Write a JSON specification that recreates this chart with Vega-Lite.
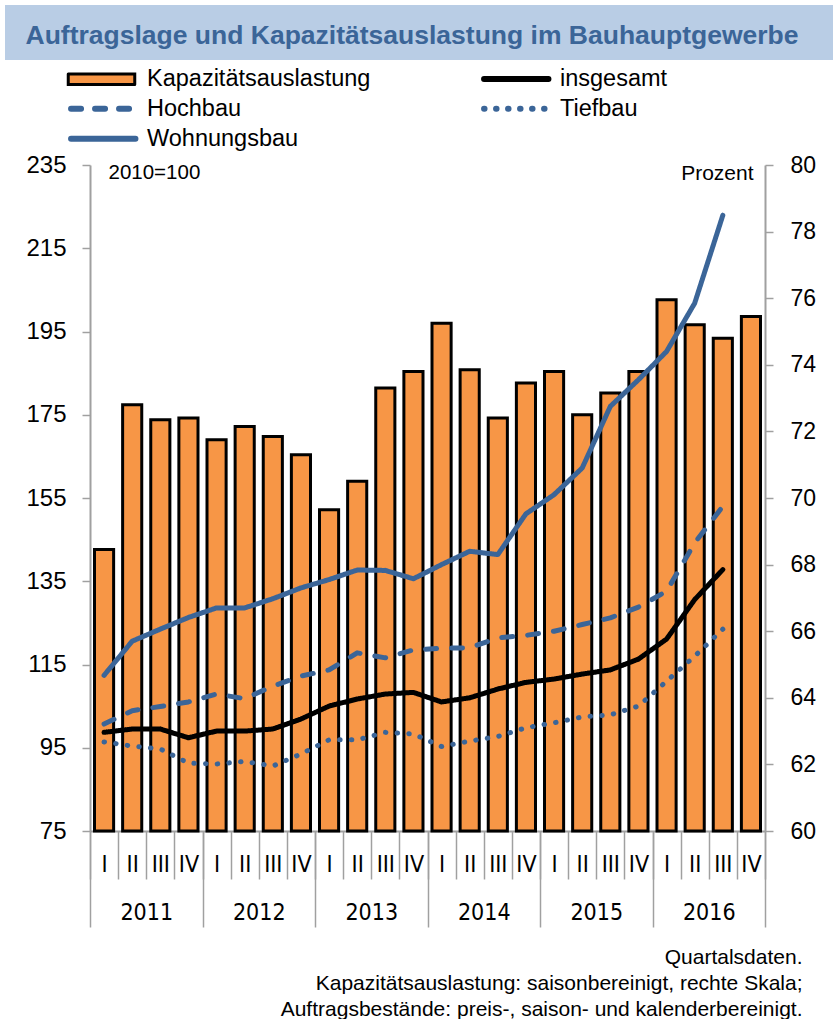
{
  "$schema": "https://vega.github.io/schema/vega-lite/v6.json",
  "padding": {"left": 5, "top": 5, "right": 0, "bottom": 0},
  "spacing": 7,
  "center": false,
  "bounds": "full",
  "resolve": {"scale": {"stroke": "independent", "strokeDash": "independent"}, "legend": {"stroke": "independent", "strokeDash": "independent"}},
  "config": {
    "font": "Liberation Sans",
    "view": {"stroke": null},
    "axis": {"grid": false, "domainColor": "#A0A0A0", "tickColor": "#A0A0A0", "labelColor": "#000000", "titleColor": "#000000", "titleFontWeight": "normal", "labelFont": "Liberation Sans", "titleFont": "Liberation Sans"}
  },
  "vconcat": [
    {
      "width": 828,
      "height": 55,
      "view": {"fill": "#B9CDE5", "stroke": null},
      "data": {"values": [{"k": "a"}]},
      "mark": {"type": "point", "opacity": 0},
      "encoding": {
        "x": {"field": "k", "type": "nominal", "axis": {"orient": "top", "domain": false, "ticks": false, "labels": false, "title": "Auftragslage und Kapazitätsauslastung im Bauhauptgewerbe", "titleX": 20, "titleY": 38, "titleAlign": "left", "titleBaseline": "alphabetic", "titleAngle": 0, "titleFont": "Liberation Sans", "titleFontSize": 26.5, "titleFontWeight": "bold", "titleColor": "#3B6598", "titleLimit": 1000}}
      }
    },
    {
      "spacing": 0,
      "bounds": "full",
      "resolve": {"scale": {"stroke": "independent", "strokeDash": "independent"}, "legend": {"stroke": "independent", "strokeDash": "independent"}},
      "hconcat": [
        {
          "width": 20,
          "height": 10,
          "data": {"values": [{"k": "a"}]},
          "mark": {"type": "point", "opacity": 0},
          "encoding": {}
        },
        {
          "width": 675,
          "height": 666,
          "layer": [
            {
              "data": {"values": [
                {"q": "2011-I", "Kapazitätsauslastung": 68.45, "insgesamt": 98.7, "Hochbau": 100.7, "Tiefbau": 96.4, "Wohnungsbau": 112.4},
                {"q": "2011-II", "Kapazitätsauslastung": 72.8, "insgesamt": 99.5, "Hochbau": 103.9, "Tiefbau": 95.4, "Wohnungsbau": 120.6},
                {"q": "2011-III", "Kapazitätsauslastung": 72.35, "insgesamt": 99.5, "Hochbau": 104.9, "Tiefbau": 94.7, "Wohnungsbau": 123.5},
                {"q": "2011-IV", "Kapazitätsauslastung": 72.4, "insgesamt": 97.4, "Hochbau": 106.0, "Tiefbau": 91.3, "Wohnungsbau": 126.3},
                {"q": "2012-I", "Kapazitätsauslastung": 71.75, "insgesamt": 99.0, "Hochbau": 107.9, "Tiefbau": 91.1, "Wohnungsbau": 128.6},
                {"q": "2012-II", "Kapazitätsauslastung": 72.15, "insgesamt": 99.0, "Hochbau": 106.8, "Tiefbau": 91.7, "Wohnungsbau": 128.6},
                {"q": "2012-III", "Kapazitätsauslastung": 71.85, "insgesamt": 99.5, "Hochbau": 109.8, "Tiefbau": 90.6, "Wohnungsbau": 130.8},
                {"q": "2012-IV", "Kapazitätsauslastung": 71.3, "insgesamt": 101.9, "Hochbau": 112.2, "Tiefbau": 93.5, "Wohnungsbau": 133.4},
                {"q": "2013-I", "Kapazitätsauslastung": 69.65, "insgesamt": 105.0, "Hochbau": 113.7, "Tiefbau": 96.9, "Wohnungsbau": 135.4},
                {"q": "2013-II", "Kapazitätsauslastung": 70.5, "insgesamt": 106.7, "Hochbau": 117.8, "Tiefbau": 96.9, "Wohnungsbau": 137.7},
                {"q": "2013-III", "Kapazitätsauslastung": 73.3, "insgesamt": 107.9, "Hochbau": 116.6, "Tiefbau": 98.7, "Wohnungsbau": 137.6},
                {"q": "2013-IV", "Kapazitätsauslastung": 73.8, "insgesamt": 108.3, "Hochbau": 118.5, "Tiefbau": 98.3, "Wohnungsbau": 135.6},
                {"q": "2014-I", "Kapazitätsauslastung": 75.25, "insgesamt": 106.0, "Hochbau": 118.9, "Tiefbau": 95.3, "Wohnungsbau": 139.0},
                {"q": "2014-II", "Kapazitätsauslastung": 73.85, "insgesamt": 107.0, "Hochbau": 119.0, "Tiefbau": 96.6, "Wohnungsbau": 142.2},
                {"q": "2014-III", "Kapazitätsauslastung": 72.4, "insgesamt": 109.1, "Hochbau": 121.4, "Tiefbau": 97.7, "Wohnungsbau": 141.4},
                {"q": "2014-IV", "Kapazitätsauslastung": 73.45, "insgesamt": 110.7, "Hochbau": 122.0, "Tiefbau": 99.8, "Wohnungsbau": 151.2},
                {"q": "2015-I", "Kapazitätsauslastung": 73.8, "insgesamt": 111.5, "Hochbau": 123.0, "Tiefbau": 101.0, "Wohnungsbau": 155.8},
                {"q": "2015-II", "Kapazitätsauslastung": 72.5, "insgesamt": 112.7, "Hochbau": 124.6, "Tiefbau": 102.4, "Wohnungsbau": 162.2},
                {"q": "2015-III", "Kapazitätsauslastung": 73.15, "insgesamt": 113.7, "Hochbau": 126.2, "Tiefbau": 102.9, "Wohnungsbau": 177.0},
                {"q": "2015-IV", "Kapazitätsauslastung": 73.8, "insgesamt": 116.3, "Hochbau": 128.8, "Tiefbau": 105.0, "Wohnungsbau": 183.4},
                {"q": "2016-I", "Kapazitätsauslastung": 75.95, "insgesamt": 121.1, "Hochbau": 132.6, "Tiefbau": 111.0, "Wohnungsbau": 190.2},
                {"q": "2016-II", "Kapazitätsauslastung": 75.2, "insgesamt": 130.6, "Hochbau": 144.2, "Tiefbau": 117.0, "Wohnungsbau": 201.8},
                {"q": "2016-III", "Kapazitätsauslastung": 74.8, "insgesamt": 137.8, "Hochbau": 153.0, "Tiefbau": 123.5, "Wohnungsbau": 222.9},
                {"q": "2016-IV", "Kapazitätsauslastung": 75.45, "insgesamt": null, "Hochbau": null, "Tiefbau": null, "Wohnungsbau": null}
              ]},
              "encoding": {
                "x": {
                  "field": "q", "type": "ordinal", "sort": null,
                  "scale": {"type": "band", "paddingInner": 0, "paddingOuter": 0},
                  "axis": {"orient": "bottom", "title": null, "labelExpr": "split(datum.value, '-')[1]", "labelAngle": 0, "tickBand": "extent", "tickSize": 48, "tickWidth": 1.5, "domainWidth": 2, "labelBaseline": "middle", "labelPadding": -15, "labelFont": "DejaVu Sans Condensed, Liberation Sans", "labelFontSize": 23}
                }
              },
              "layer": [
                {
                  "transform": [{"fold": ["Kapazitätsauslastung"], "as": ["series", "value"]}],
                  "mark": {"type": "bar", "fill": "#F79646", "stroke": "#000000", "strokeWidth": 3, "width": {"band": 0.68}},
                  "encoding": {
                    "y": {
                      "field": "value", "type": "quantitative",
                      "scale": {"domain": [60, 80], "nice": false, "zero": false},
                      "axis": {"orient": "right", "values": [60, 62, 64, 66, 68, 70, 72, 74, 76, 78, 80], "tickSize": 8, "tickWidth": 1.5, "domainWidth": 2, "labelPadding": 17, "labelFontSize": 23, "title": "Prozent", "titleAngle": 0, "titleAlign": "right", "titleBaseline": "alphabetic", "titleX": -12, "titleY": 14, "titleFontSize": 21}
                    },
                    "y2": {"datum": 60}
                  }
                },
                {
                  "transform": [{"fold": ["insgesamt", "Hochbau", "Tiefbau", "Wohnungsbau"], "as": ["series", "value"]}],
                  "mark": {"type": "line", "strokeWidth": 5, "strokeCap": "round", "strokeJoin": "round"},
                  "encoding": {
                    "y": {
                      "field": "value", "type": "quantitative",
                      "scale": {"domain": [75, 235], "nice": false, "zero": false},
                      "axis": {"orient": "left", "values": [75, 95, 115, 135, 155, 175, 195, 215, 235], "tickSize": 8, "tickWidth": 1.5, "domainWidth": 2, "labelPadding": 16, "labelFontSize": 24, "title": "2010=100", "titleAngle": 0, "titleAlign": "left", "titleBaseline": "alphabetic", "titleX": 18, "titleY": 13, "titleFontSize": 20.5}
                    },
                    "stroke": {
                      "field": "series", "type": "nominal",
                      "scale": {"domain": ["Kapazitätsauslastung", "insgesamt", "Hochbau", "Tiefbau", "Wohnungsbau"], "range": ["#000000", "#000000", "#3B6598", "#3B6598", "#3B6598"]},
                      "legend": {
                        "orient": "none", "legendX": -26.5, "legendY": -98, "direction": "horizontal", "columns": 2, "columnPadding": 101, "rowPadding": 5, "padding": 0, "title": null,
                        "labelFont": "Liberation Sans", "labelFontSize": 23.5, "labelColor": "#000000", "labelLimit": 400, "labelOffset": 60,
                        "symbolSize": 196, "symbolStrokeWidth": 0,
                        "encode": {"symbols": {"update": {
                          "shape": {"signal": "datum.value === 'Kapazitätsauslastung' ? 'M-1,-0.75H8.5V0.75H-1Z' : 'M-0.6,0H8.6'"},
                          "fill": {"signal": "datum.value === 'Kapazitätsauslastung' ? '#F79646' : 'transparent'"},
                          "strokeWidth": {"signal": "datum.value === 'Kapazitätsauslastung' ? 3 : 6"},
                          "strokeDash": {"signal": "datum.value === 'Hochbau' ? [10,14] : (datum.value === 'Tiefbau' ? [0.5,11.5] : [1,0])"},
                          "strokeCap": {"value": "round"},
                          "opacity": {"value": 1}
                        }}}
                      }
                    },
                    "strokeDash": {
                      "field": "series", "type": "nominal",
                      "scale": {"domain": ["insgesamt", "Hochbau", "Tiefbau", "Wohnungsbau"], "range": [[1, 0], [11, 15], [0.5, 11.2], [1, 0]]},
                      "legend": null
                    }
                  }
                }
              ],
              "resolve": {"scale": {"y": "independent"}}
            },
            {
              "data": {"values": [{"year": "2011"}, {"year": "2012"}, {"year": "2013"}, {"year": "2014"}, {"year": "2015"}, {"year": "2016"}]},
              "mark": {"type": "point", "opacity": 0},
              "encoding": {
                "x": {
                  "field": "year", "type": "ordinal", "sort": null,
                  "scale": {"type": "band", "paddingInner": 0, "paddingOuter": 0},
                  "axis": {"orient": "bottom", "labelAngle": 0, "tickBand": "extent", "tickSize": 96, "tickWidth": 1.5, "domain": false, "labelBaseline": "middle", "labelPadding": -15, "labelFont": "DejaVu Sans Condensed, Liberation Sans", "labelFontSize": 23,
                    "title": ["Quartalsdaten.", "Kapazitätsauslastung: saisonbereinigt, rechte Skala;", "Auftragsbestände: preis-, saison- und kalenderbereinigt."],
                    "titleX": 712, "titleY": 132, "titleAlign": "right", "titleBaseline": "alphabetic", "titleAngle": 0, "titleFontSize": 21, "titleLineHeight": 26, "titleLimit": 1000}
                }
              }
            }
          ],
          "resolve": {"scale": {"x": "independent", "y": "independent"}}
        }
      ]
    }
  ]
}
